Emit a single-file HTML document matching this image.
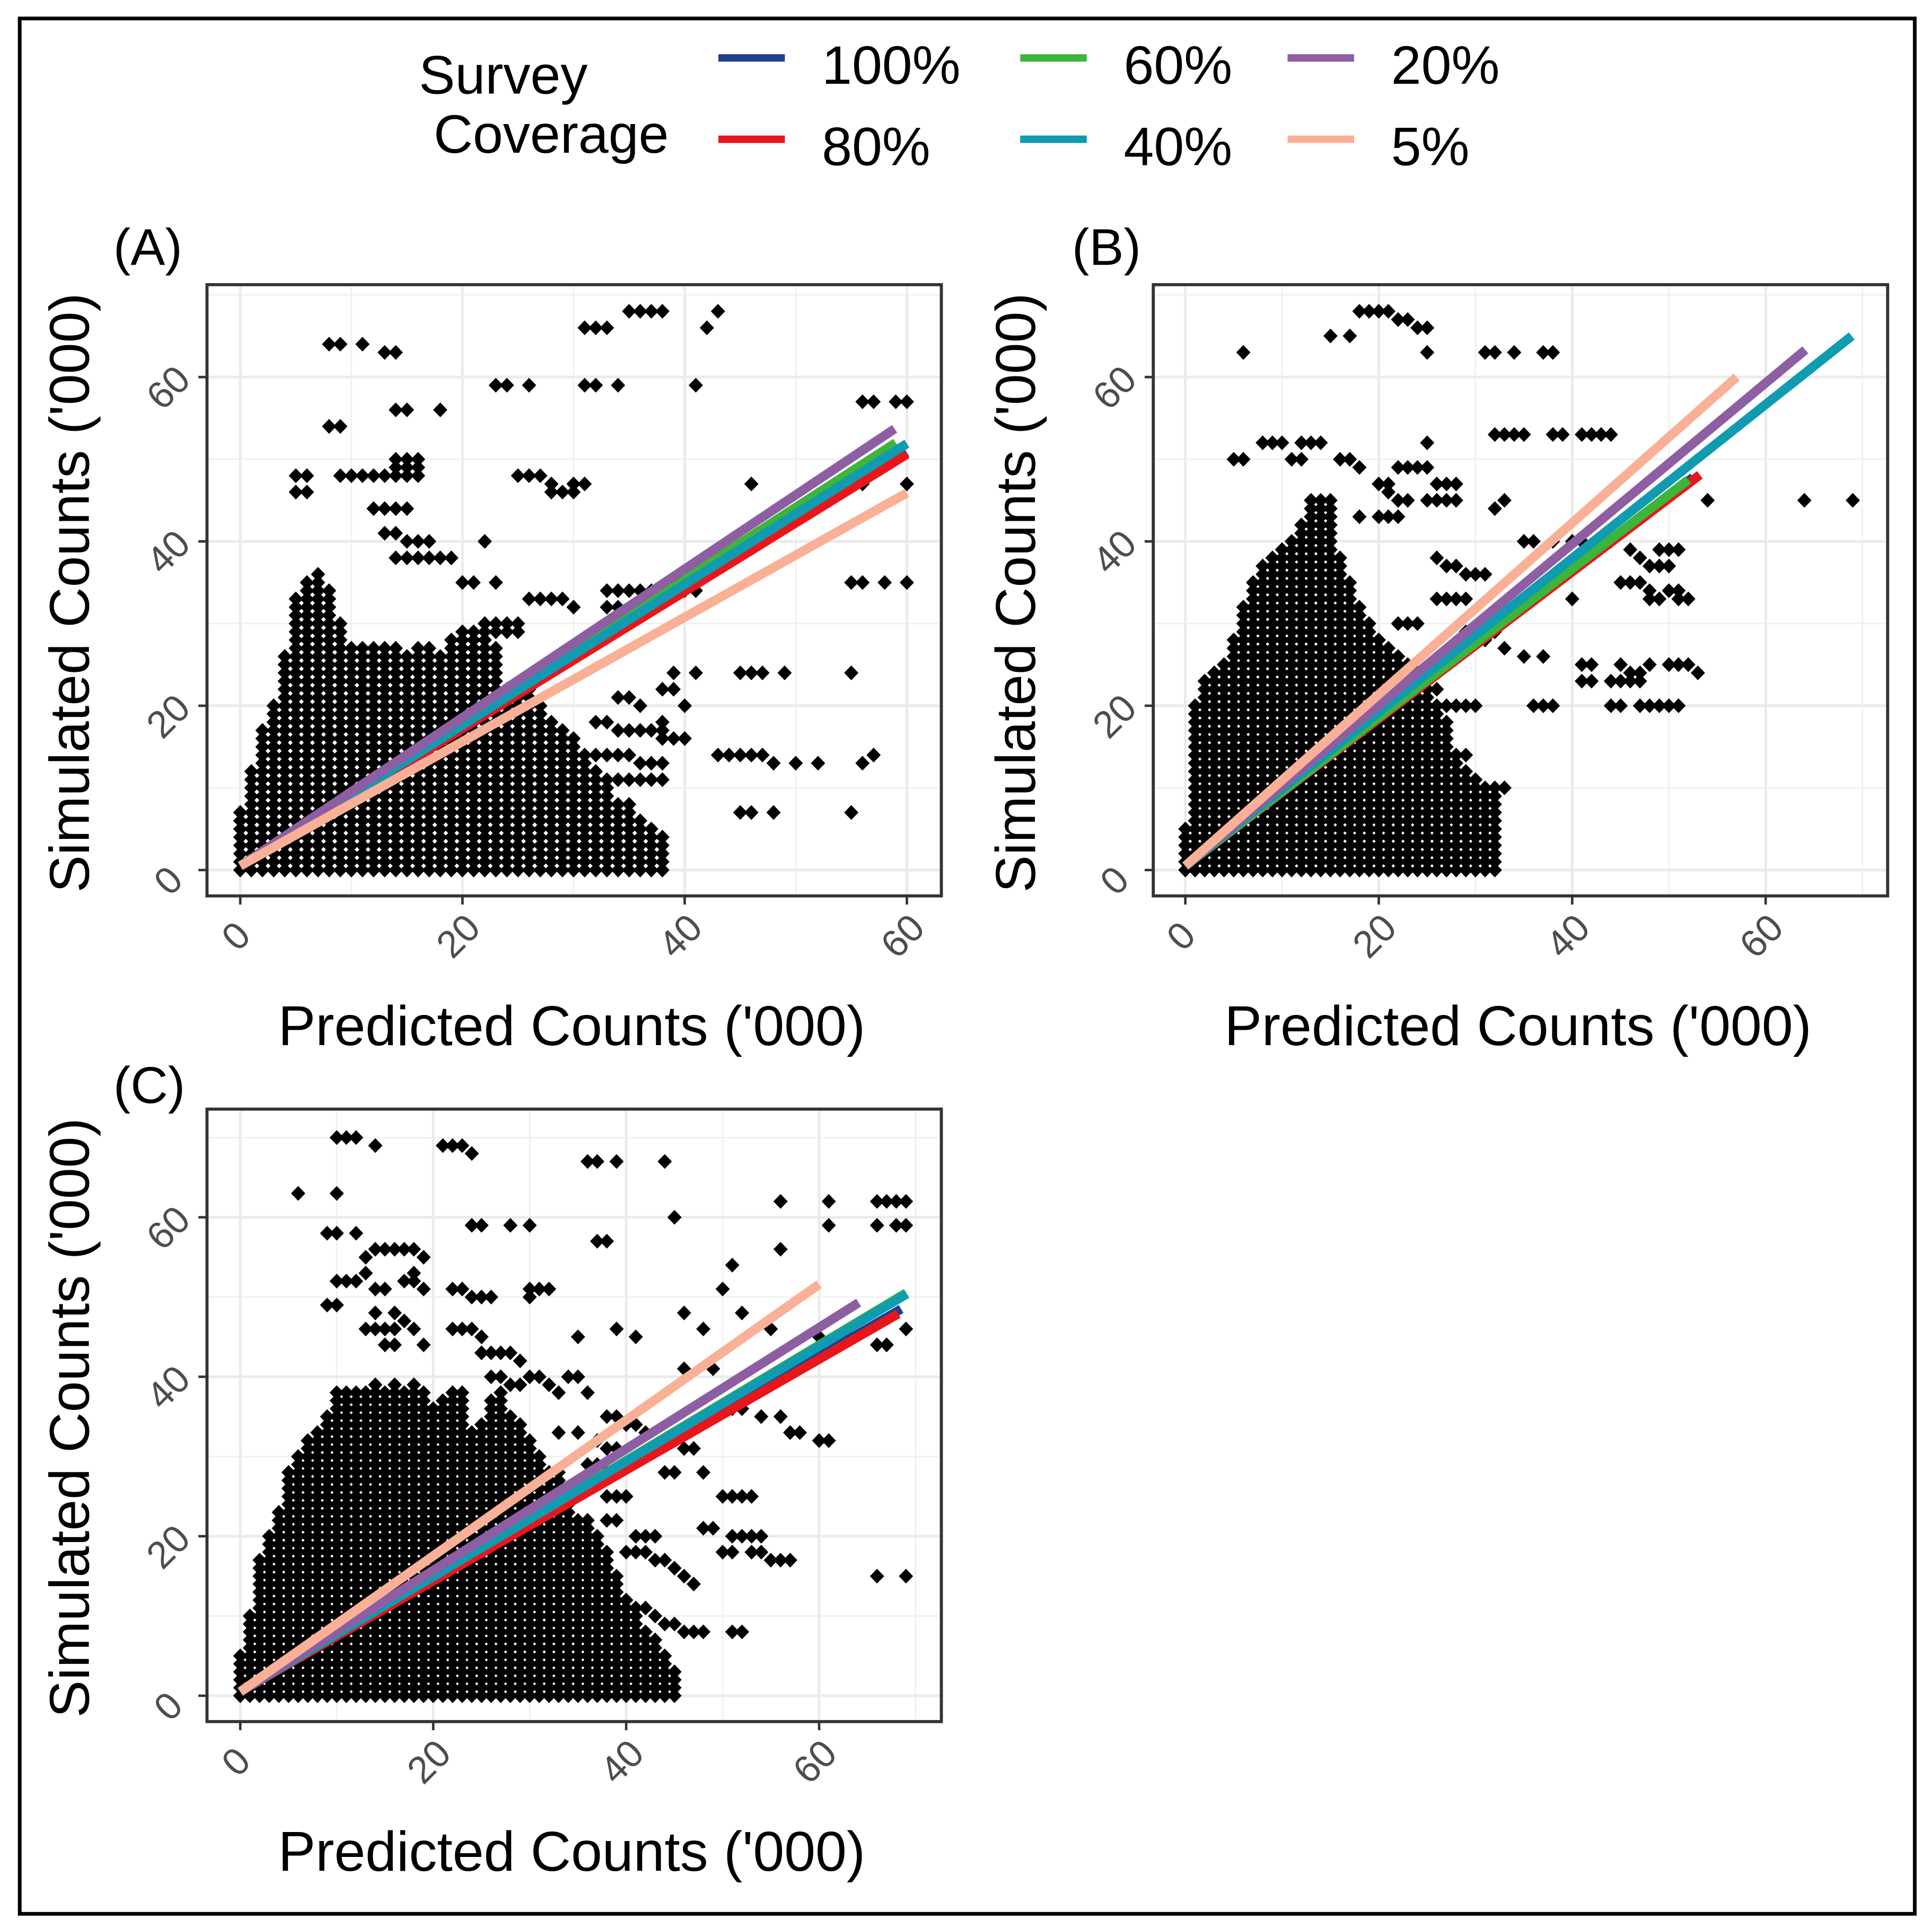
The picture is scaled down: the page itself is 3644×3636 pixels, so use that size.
<!DOCTYPE html>
<html><head><meta charset="utf-8">
<style>
html,body{margin:0;padding:0;background:#fff;}
svg{display:block;}
text{font-family:"Liberation Sans",Arial,sans-serif;}
</style></head>
<body>
<svg id="fig" xmlns="http://www.w3.org/2000/svg" width="3644" height="3636" viewBox="0 0 1568 1564.5" preserveAspectRatio="none">
<rect x="16" y="15" width="1538" height="1538" fill="#fff" stroke="#000" stroke-width="3"/>
<g id="legend">
<text x="340" y="76" font-size="44">Survey</text>
<text x="352" y="124" font-size="44">Coverage</text>
</g>
<g id="panels"></g>
</svg>
<script>
// ---- data ----
const seriesNames = ["100%","80%","60%","40%","20%","5%"];
const seriesColors = ["#1f3f8f","#e8161b","#3cb53a","#0f9bb0","#8e5ea2","#f9b096"];
const endAx = [60,60,59,60,58.9,60];
const endAy = [50.8,50.6,52,51.9,53.7,45.9];
const endBx = [52.5,53.2,52,68.9,64.1,57];
const endBy = [47.8,48.1,47.5,65,63.3,60];
const endCx = [68.5,68.2,69,69.1,64.1,60];
const endCy = [48.5,47.9,50.5,50.4,49.3,51.6];
const startY = 0.5;
const xTicks = [0,20,40,60];
const yTicks = [0,20,40,60];
const colAx = [0,1,2,3,4,5,6,7,8,9,10,11,12,13,14,15,16,17,18,19,20,21,22,23,24,25,26,27,28,29,30,31,32,33,34,35,36,37,38];
const colAtop = [7,12,17,20,26,33,35,36,34,30,27,27,27,27,27,26,27,27,26,28,29,29,28,27,22,22,22,20,18,17,16,14,12,10,8,8,6,5,4];
const colBx = [0,1,2,3,4,5,6,7,8,9,10,11,12,13,14,15,16,17,18,19,20,21,22,23,24,25,26,27,28,29,30,31,32];
const colBtop = [5,20,23,24,25,28,32,35,37,38,39,40,42,45,45,45,38,35,32,30,28,27,26,25,24,22,20,18,14,12,11,10,10];
const colCx = [0,1,2,3,4,5,6,7,8,9,10,11,12,13,14,15,16,17,18,19,20,21,22,23,24,25,26,27,28,29,30,31,32,33,34,35,36,37,38,39,40,41,42,43,44,45];
const colCtop = [5,10,17,20,23,28,30,32,33,35,38,38,38,38,39,38,39,38,39,38,36,37,38,38,33,34,37,38,35,34,32,30,28,28,25,22,22,20,18,15,12,10,8,7,5,3];
const outA = [[8,64],[9,64],[11,64],[13,63],[14,63],[8,54],[9,54],[14,56],[15,56],[18,56],[23,59],[24,59],[26,59],[31,59],[32,59],[34,59],[31,66],[32,66],[33,66],[35,68],[36,68],[37,68],[38,68],[42,66],[43,68],[41,59],[56,57],[57,57],[59,57],[60,57],[5,46],[6,46],[5,48],[6,48],[9,48],[10,48],[11,48],[12,48],[13,48],[14,48],[15,48],[16,48],[14,49],[15,49],[16,49],[14,50],[15,50],[16,50],[12,44],[13,44],[14,44],[15,44],[13,41],[14,41],[15,40],[16,40],[17,40],[14,38],[15,38],[16,38],[17,38],[18,38],[19,38],[22,40],[25,48],[26,48],[27,48],[28,47],[29,46],[30,46],[31,47],[30,47],[28,46],[20,35],[21,35],[23,35],[26,33],[27,33],[28,33],[29,33],[30,32],[33,34],[34,34],[35,34],[36,34],[37,34],[33,32],[34,32],[40,34],[41,34],[46,47],[56,47],[60,47],[55,35],[56,35],[58,35],[60,35],[39,24],[41,24],[45,24],[46,24],[47,24],[49,24],[55,24],[38,22],[39,22],[34,21],[35,21],[36,20],[40,20],[43,14],[44,14],[45,14],[46,14],[47,14],[48,13],[50,13],[52,13],[56,13],[57,14],[38,17],[39,16],[40,16],[45,7],[46,7],[48,7],[55,7],[38,4],[31,5],[32,5],[33,5],[34,5],[35,5],[36,5],[34,7],[28,1],[26,4],[27,4],[28,4],[29,4],[30,4],[23,6],[24,6],[25,6],[24,8],[25,8],[26,8],[27,8],[28,7],[22,12],[23,12],[24,12],[25,12],[26,12],[27,11],[28,11],[29,11],[30,11],[31,11],[32,11],[33,11],[34,11],[35,11],[36,11],[37,11],[38,11],[24,14],[25,14],[26,14],[27,14],[28,14],[30,14],[31,14],[32,14],[33,14],[34,14],[35,14],[36,13],[37,13],[38,13],[34,17],[35,17],[36,17],[37,17],[38,16],[38,18],[32,18],[33,18],[22,30],[23,30],[24,30],[25,30],[21,29],[22,29],[23,29],[24,29],[25,29]];
const outB = [[6,63],[15,65],[17,65],[18,68],[19,68],[20,68],[21,68],[22,67],[23,67],[24,66],[25,66],[25,63],[31,63],[32,63],[34,63],[37,63],[38,63],[5,50],[6,50],[8,52],[9,52],[10,52],[12,52],[13,52],[14,52],[11,50],[12,50],[16,50],[17,50],[18,49],[22,49],[23,49],[24,49],[25,49],[26,47],[27,47],[28,47],[25,45],[26,45],[27,45],[28,45],[33,45],[32,44],[25,52],[32,53],[33,53],[34,53],[35,53],[38,53],[39,53],[41,53],[42,53],[43,53],[44,53],[54,45],[64,45],[69,45],[35,40],[36,40],[38,40],[40,40],[41,40],[44,40],[46,39],[47,38],[49,39],[50,39],[51,39],[48,37],[49,37],[50,37],[45,35],[46,35],[47,35],[48,34],[50,34],[51,34],[40,33],[48,33],[49,33],[51,33],[52,33],[29,29],[30,29],[31,29],[32,29],[33,27],[35,26],[37,26],[41,25],[42,25],[45,25],[46,24],[47,24],[48,25],[50,25],[51,25],[52,25],[53,24],[41,23],[42,23],[44,23],[45,23],[46,23],[47,23],[36,20],[37,20],[38,20],[44,20],[45,20],[47,20],[48,20],[49,20],[50,20],[51,20],[27,20],[28,20],[29,20],[30,20],[25,22],[26,22],[20,47],[21,47],[21,46],[22,45],[23,45],[26,38],[27,37],[28,37],[29,36],[30,36],[31,36],[26,33],[27,33],[28,33],[29,33],[30,28],[31,28],[26,15],[27,15],[28,14],[29,14],[30,10],[31,10],[32,10],[33,10],[28,12],[29,12],[30,11],[25,17],[26,18],[27,18],[22,30],[23,30],[24,30],[18,43],[20,43],[21,43],[22,43]];
const outC = [[10,70],[11,70],[12,70],[14,69],[21,69],[22,69],[23,69],[24,68],[36,67],[37,67],[39,67],[44,67],[6,63],[10,63],[9,58],[10,58],[12,58],[14,56],[15,56],[16,56],[17,56],[18,56],[19,55],[13,55],[18,53],[24,59],[25,59],[28,59],[30,59],[37,57],[38,57],[45,60],[51,54],[56,56],[56,62],[61,62],[61,59],[66,62],[67,62],[68,62],[69,62],[66,59],[68,59],[69,59],[10,52],[11,52],[12,52],[13,53],[14,51],[15,51],[17,52],[18,52],[19,51],[22,51],[23,51],[24,50],[25,50],[26,50],[30,51],[31,51],[32,51],[30,50],[9,49],[10,49],[14,48],[16,48],[17,47],[18,46],[13,46],[14,46],[15,46],[16,46],[22,46],[23,46],[24,46],[25,45],[15,44],[16,44],[19,44],[25,43],[26,43],[27,43],[28,43],[29,42],[35,45],[39,46],[41,45],[46,48],[50,51],[48,46],[52,48],[55,46],[60,45],[61,44],[63,45],[66,44],[67,44],[69,46],[46,41],[49,41],[51,36],[52,36],[54,35],[56,35],[57,33],[58,33],[60,32],[61,32],[46,31],[47,31],[44,28],[45,28],[48,28],[50,25],[51,25],[52,25],[53,25],[48,21],[49,21],[51,20],[52,20],[53,20],[54,20],[50,18],[51,18],[53,18],[54,18],[55,17],[56,17],[57,17],[66,15],[69,15],[40,18],[41,18],[42,18],[43,17],[44,17],[45,16],[46,15],[47,14],[40,11],[41,11],[42,11],[43,10],[44,9],[45,9],[46,8],[47,8],[48,8],[51,8],[52,8],[41,7],[42,7],[38,6],[39,6],[40,6],[35,3],[36,3],[34,5],[41,20],[42,20],[43,20],[38,22],[39,22],[38,25],[39,25],[40,25],[36,29],[37,29],[38,28],[33,33],[35,33],[37,32],[38,31],[39,31],[38,35],[39,35],[40,34],[41,34],[42,33],[34,40],[35,40],[36,38],[30,40],[31,40],[32,39],[33,38],[26,40],[27,40],[28,39],[29,39]];

const NS = "http://www.w3.org/2000/svg";
function mk(tag, attrs, parent){
  const e = document.createElementNS(NS, tag);
  for (const k in attrs) e.setAttribute(k, attrs[k]);
  parent.appendChild(e);
  return e;
}

const legend = document.getElementById('legend');
const legCols = [583, 828, 1045];
for (let i = 0; i < seriesNames.length; i++) {
  const c = Math.floor(i / 2), r = i % 2;
  const g = mk('g', {}, legend);
  
  
  const ly = r === 0 ? 47 : 113;
  mk('line', {x1: legCols[c], x2: legCols[c] + 54, y1: ly, y2: ly, stroke: seriesColors[i], 'stroke-width': 6}, g);
  const t = mk('text', {x: legCols[c] + 84, y: ly + 21, 'font-size': 44}, g);
  t.textContent = seriesNames[i];
}

const panels = [
  {id:'A', lab:'(A)', L:168, R:764, T:231, B:727, x0:195, xs:9.017, y0:706, ys:6.667, minorX:[10,30,50], ends:[endAx,endAy], colX:colAx, colTop:colAtop, out:outA, labX:92, labY:215},
  {id:'B', lab:'(B)', L:936, R:1532, T:231, B:727, x0:962, xs:7.85, y0:706, ys:6.667, minorX:[10,30,50,70], ends:[endBx,endBy], colX:colBx, colTop:colBtop, out:outB, labX:870, labY:215},
  {id:'C', lab:'(C)', L:168, R:764, T:900, B:1397, x0:195, xs:7.83, y0:1376, ys:6.47, minorX:[10,30,50,70], ends:[endCx,endCy], colX:colCx, colTop:colCtop, out:outC, labX:92, labY:895}
];
const root = document.getElementById('panels');
panels.forEach(p => {
  const X = v => p.x0 + v * p.xs;
  const Y = v => p.y0 - v * p.ys;
  const g = mk('g', {}, root);
  
  
  const lab = mk('text', {x: p.labX, y: p.labY, 'font-size': 42}, g);
  lab.textContent = p.lab;
  
  
  mk('rect', {x: p.L, y: p.T, width: p.R - p.L, height: p.B - p.T, fill: '#fff'}, g);
  const clipId = 'clip' + p.id;
  const cp = mk('clipPath', {id: clipId}, g);
  mk('rect', {x: p.L, y: p.T, width: p.R - p.L, height: p.B - p.T}, cp);
  const grid = mk('g', {'clip-path': 'url(#' + clipId + ')'}, g);
  
  
  p.minorX.forEach(v => mk('line', {x1: X(v), x2: X(v), y1: p.T, y2: p.B, stroke: '#f0f0f0', 'stroke-width': 1.2}, grid));
  [10,30,50,70].forEach(v => mk('line', {x1: p.L, x2: p.R, y1: Y(v), y2: Y(v), stroke: '#f0f0f0', 'stroke-width': 1.2}, grid));
  xTicks.forEach(v => mk('line', {x1: X(v), x2: X(v), y1: p.T, y2: p.B, stroke: '#ebebeb', 'stroke-width': 2.2}, grid));
  yTicks.forEach(v => mk('line', {x1: p.L, x2: p.R, y1: Y(v), y2: Y(v), stroke: '#ebebeb', 'stroke-width': 2.2}, grid));
  const pts = mk('g', {'clip-path': 'url(#' + clipId + ')', fill: '#000'}, g);
  
  
  let d = '';
  const dia = (x, y) => { const cx = X(x), cy = Y(y); d += 'M' + cx.toFixed(1) + ' ' + (cy - 6).toFixed(1) + 'l5.8 6l-5.8 6l-5.8 -6z'; };
  for (let i = 0; i < p.colX.length; i++) for (let y = 0; y <= p.colTop[i]; y++) dia(p.colX[i], y);
  p.out.forEach(q => dia(q[0], q[1]));
  mk('path', {d: d}, pts);
  const lg = mk('g', {'clip-path': 'url(#' + clipId + ')'}, g);
  for (let i = 0; i < seriesNames.length; i++) {
    const ln = mk('line', {x1: X(0), y1: Y(startY), x2: X(p.ends[0][i]), y2: Y(p.ends[1][i]), stroke: seriesColors[i], 'stroke-width': 7.5}, lg);
    
    
  }
  mk('rect', {x: p.L, y: p.T, width: p.R - p.L, height: p.B - p.T, fill: 'none', stroke: '#333', 'stroke-width': 2.5}, g);
  const ax = mk('g', {}, g);
  
  
  xTicks.forEach(v => {
    mk('line', {x1: X(v), x2: X(v), y1: p.B, y2: p.B + 7, stroke: '#333', 'stroke-width': 2}, ax);
    const t = mk('text', {x: X(v) + 4, y: p.B + 40, 'font-size': 31, fill: '#4d4d4d', 'text-anchor': 'middle', transform: 'rotate(-45 ' + (X(v) + 4) + ' ' + (p.B + 40) + ')'}, ax);
    t.textContent = v;
  });
  const ay = mk('g', {}, g);
  
  
  yTicks.forEach(v => {
    mk('line', {x1: p.L - 7, x2: p.L, y1: Y(v), y2: Y(v), stroke: '#333', 'stroke-width': 2}, ay);
    const t = mk('text', {x: p.L - 24, y: Y(v) + 16, 'font-size': 31, fill: '#4d4d4d', 'text-anchor': 'middle', transform: 'rotate(-45 ' + (p.L - 24) + ' ' + (Y(v) + 16) + ')'}, ay);
    t.textContent = v;
  });
  const xt = mk('text', {x: (p.L + p.R) / 2 - 2, y: p.B + 121, 'font-size': 45.5, 'text-anchor': 'middle'}, g);
  xt.textContent = "Predicted Counts ('000)";
  
  
  const yc = (p.T + p.B) / 2 + 2, yx = p.L - 96;
  const yt = mk('text', {x: yx, y: yc, 'font-size': 45.5, 'text-anchor': 'middle', transform: 'rotate(-90 ' + yx + ' ' + yc + ')'}, g);
  yt.textContent = "Simulated Counts ('000)";
  
  
});
</script>
</body></html>
